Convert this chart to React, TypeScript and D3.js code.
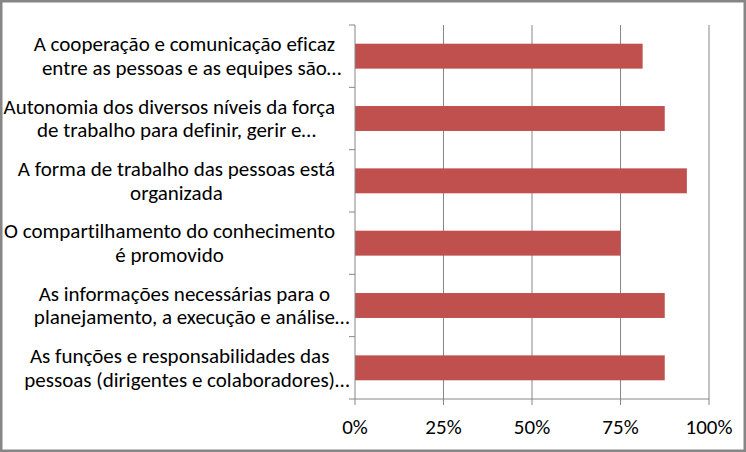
import React, { useEffect, useRef } from "react";
import * as d3 from "d3";

const categories = [
  ["A cooperação e comunicação eficaz", "entre as pessoas e as equipes são…"],
  ["Autonomia dos diversos níveis da força", "de trabalho para definir, gerir e…"],
  ["A forma de trabalho das pessoas está", "organizada"],
  ["O compartilhamento do conhecimento", "é promovido"],
  ["As informações necessárias para o", "planejamento, a execução e análise…"],
  ["As funções e responsabilidades das", "pessoas (dirigentes e colaboradores)…"],
];
const values = [0.8125, 0.875, 0.9375, 0.75, 0.875, 0.875];
const ticks = [0, 0.25, 0.5, 0.75, 1];

export default function App() {
  const ref = useRef<SVGSVGElement>(null);

  useEffect(() => {
    document.body.style.margin = "0";
    const width = 746;
    const height = 452;
    const margin = { top: 25, right: 37, bottom: 53, left: 355 };
    const font = "Carlito, Lato, 'Liberation Sans', sans-serif";

    const draw = () => {
      const svg = d3.select(ref.current);
      svg.selectAll("*").remove();

      svg
        .append("rect")
        .attr("x", 1.25)
        .attr("y", 1.25)
        .attr("width", width - 2.5)
        .attr("height", height - 2.5)
        .attr("fill", "#fff")
        .attr("stroke", "#868686")
        .attr("stroke-width", 2.5);

      const x = d3
        .scaleLinear()
        .domain([0, 1])
        .range([margin.left, width - margin.right]);

      const y = d3
        .scaleBand()
        .domain(categories.map((_, i) => String(i)))
        .range([margin.top, height - margin.bottom])
        .paddingInner(0.6)
        .paddingOuter(0.3);

      const bandStep = y.step();
      const top = margin.top;
      const bottom = height - margin.bottom;

      // gridlines
      svg
        .append("g")
        .selectAll("line")
        .data(ticks.slice(1))
        .join("line")
        .attr("x1", d => x(d))
        .attr("x2", d => x(d))
        .attr("y1", top)
        .attr("y2", bottom + 6)
        .attr("stroke", "#868686")
        .attr("stroke-width", 1);

      // bars
      svg
        .append("g")
        .selectAll("rect")
        .data(values)
        .join("rect")
        .attr("x", x(0))
        .attr("y", (d, i) => y(String(i)))
        .attr("width", d => x(d) - x(0))
        .attr("height", y.bandwidth())
        .attr("fill", "#C0504D");

      // axes
      const axes = svg.append("g").attr("stroke", "#868686").attr("stroke-width", 1);
      axes
        .append("line")
        .attr("x1", x(0))
        .attr("x2", x(0))
        .attr("y1", top)
        .attr("y2", bottom + 6);
      axes
        .append("line")
        .attr("x1", x(0))
        .attr("x2", x(1))
        .attr("y1", bottom)
        .attr("y2", bottom);
      axes
        .selectAll(".ytick")
        .data(d3.range(categories.length + 1))
        .join("line")
        .attr("x1", x(0) - 6)
        .attr("x2", x(0))
        .attr("y1", i => top + i * bandStep)
        .attr("y2", i => top + i * bandStep);

      // x tick labels
      svg
        .append("g")
        .attr("font-family", font)
        .attr("font-size", 21)
        .attr("text-anchor", "middle")
        .selectAll("text")
        .data(ticks)
        .join("text")
        .attr("x", d => x(d))
        .attr("y", bottom + 35)
        .attr("fill", "#000")
        .text(d => d3.format(".0%")(d));

      // category labels: lines centred without their ellipsis, like Excel does
      const rightEdge = 335;
      const lineH = 23.5;
      const labels = svg
        .append("g")
        .attr("font-family", font)
        .attr("font-size", 21)
        .style("font-variant-ligatures", "none")
        .attr("fill", "#000");

      categories.forEach((lines, i) => {
        const cy = (y(String(i)) as number) + y.bandwidth() / 2;
        const g = labels.append("g");
        const texts = g
          .selectAll("text")
          .data(lines)
          .join("text")
          .attr("y", (d, j) => cy + 7 + (j - (lines.length - 1) / 2) * lineH)
          .text(d => d.replace(/…$/, ""));
        const widths: number[] = [];
        texts.each(function () {
          widths.push((this as SVGTextElement).getComputedTextLength());
        });
        const w = d3.max(widths) as number;
        const center = rightEdge - w / 2;
        texts
          .attr("x", (d, j) => center - widths[j] / 2)
          .text(d => d);
      });
    };

    draw();
    if (document.fonts && document.fonts.ready) {
      document.fonts.ready.then(draw);
    }
  }, []);

  return (
    <svg
      ref={ref}
      width={746}
      height={452}
      style={{ display: "block", position: "absolute", left: 0, top: 0 }}
    />
  );
}
